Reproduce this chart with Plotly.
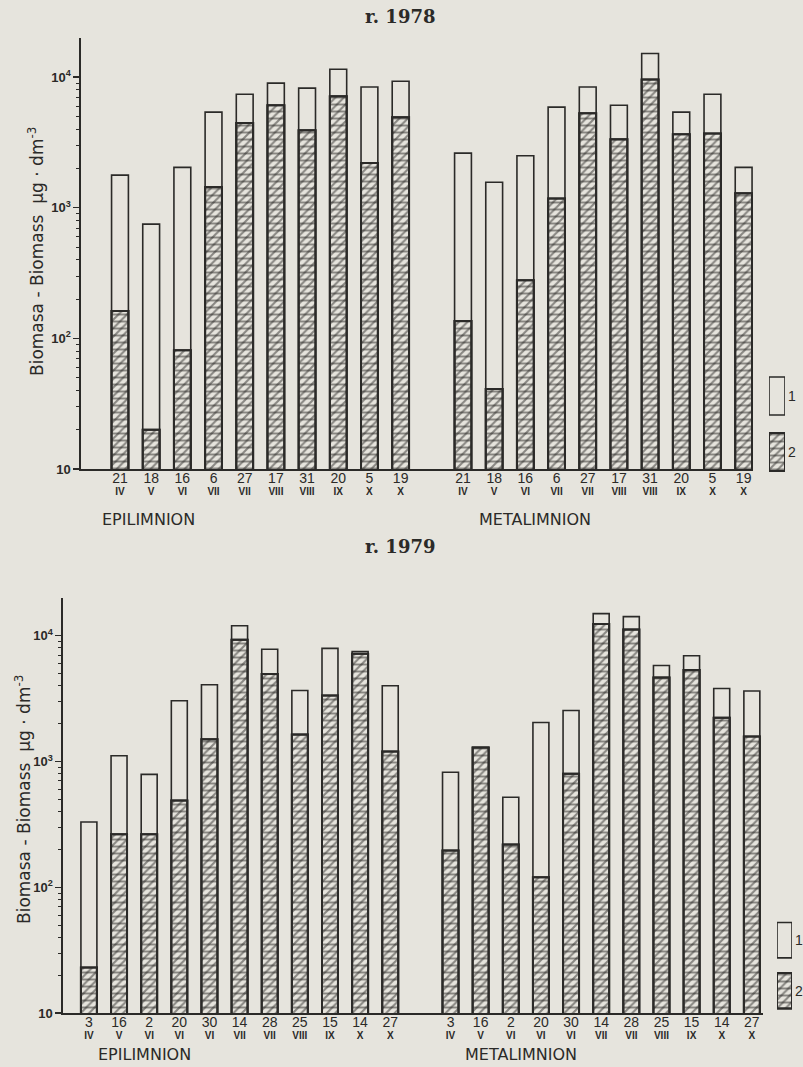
import plotly.graph_objects as go

# ---------------- data ----------------
days_78 = ["21", "18", "16", "6", "27", "17", "31", "20", "5", "19"]
months_78 = ["IV", "V", "VI", "VII", "VII", "VIII", "VIII", "IX", "X", "X"]
epi78_total = [1780, 750, 2040, 5400, 7400, 9000, 8240, 11500, 8400, 9300]
epi78_part2 = [162, 20, 81, 1440, 4460, 6100, 3930, 7160, 2200, 4940]
meta78_total = [2620, 1570, 2500, 5900, 8400, 6100, 15200, 5400, 7400, 2040]
meta78_part2 = [136, 41, 279, 1180, 5300, 3350, 9600, 3650, 3700, 1290]

days_79 = ["3", "16", "2", "20", "30", "14", "28", "25", "15", "14", "27"]
months_79 = ["IV", "V", "VI", "VI", "VI", "VII", "VII", "VIII", "IX", "X", "X"]
epi79_total = [330, 1110, 790, 3040, 4070, 12000, 7800, 3670, 7940, 7500, 4000]
epi79_part2 = [23, 264, 264, 490, 1500, 9300, 4970, 1640, 3340, 7200, 1200]
meta79_total = [820, 1290, 520, 2040, 2540, 15000, 14200, 5800, 6940, 3800, 3630]
meta79_part2 = [196, 1290, 219, 120, 800, 12400, 11200, 4650, 5340, 2230, 1580]

y_tickvals = [10, 100, 1000, 10000]
y_ticktext = ["10", "10<sup>2</sup>", "10<sup>3</sup>", "10<sup>4</sup>"]
legend_names = ["1", "2"]      # 1 = open bar, 2 = hatched bar
legend_key_len = [1, 1]        # full-length key boxes
group_names = ["EPILIMNION", "METALIMNION"]
titles = ["r. 1978", "r. 1979"]
y_title = "Biomasa - Biomass  µg · dm<sup>-3</sup>"

# ---------------- style ----------------
PAPER = "#e6e4dd"
INK = "#2b2a28"
W, H = 803, 1067


def px(x):
    return x / W


def py(y):
    return 1 - y / H


OPEN = dict(color=PAPER, line=dict(color=INK, width=1.6))
HATCH = dict(color=PAPER, line=dict(color=INK, width=2),
             pattern=dict(shape="/", size=6, solidity=0.36, fgcolor=INK, bgcolor=PAPER))
CROSS = dict(color="rgba(0,0,0,0)", line=dict(color=INK, width=2),
             pattern=dict(shape="-", size=7, solidity=0.28, fgcolor=INK,
                          bgcolor="rgba(0,0,0,0)"))

fig = go.Figure()


def positions(n):
    epi = list(range(n))
    meta = [n + 1 + i for i in range(n)]
    return epi, meta


def add_panel(days, months, epi_tot, epi_p2, meta_tot, meta_p2, xa, xa_m, ya, width):
    n = len(days)
    epi_x, meta_x = positions(n)
    xs = epi_x + meta_x
    tot = epi_tot + meta_tot
    p2 = epi_p2 + meta_p2
    fig.add_trace(go.Bar(x=xs, y=tot, width=width, name=legend_names[0],
                         showlegend=False, xaxis=xa, yaxis=ya, marker=OPEN,
                         hoverinfo="skip"))
    fig.add_trace(go.Bar(x=xs, y=p2, width=width, name=legend_names[1],
                         showlegend=False, xaxis=xa, yaxis=ya, marker=HATCH,
                         hoverinfo="skip"))
    # horizontal cross-lines of the hatching, drawn on the overlaying month axis
    fig.add_trace(go.Bar(x=xs, y=p2, width=width, showlegend=False,
                         xaxis=xa_m, yaxis=ya, marker=CROSS, hoverinfo="skip"))
    return xs, days + days, [f"<b>{m}</b>" for m in months + months]


def add_key(xa, ya, width):
    fig.add_trace(go.Bar(y=[legend_names[0]], x=[legend_key_len[0]], orientation="h",
                         width=width, showlegend=False, xaxis=xa, yaxis=ya,
                         marker=OPEN, hoverinfo="skip"))
    fig.add_trace(go.Bar(y=[legend_names[1]], x=[legend_key_len[1]], orientation="h",
                         width=width, showlegend=False, xaxis=xa, yaxis=ya,
                         marker=HATCH, hoverinfo="skip"))
    fig.add_trace(go.Bar(y=[legend_names[1]], x=[legend_key_len[1]], orientation="h",
                         width=width, showlegend=False, xaxis=xa, yaxis=ya,
                         marker=CROSS, hoverinfo="skip"))


xs1, d1, m1 = add_panel(days_78, months_78, epi78_total, epi78_part2,
                        meta78_total, meta78_part2, "x", "x3", "y", 0.54)
xs2, d2, m2 = add_panel(days_79, months_79, epi79_total, epi79_part2,
                        meta79_total, meta79_part2, "x2", "x4", "y2", 0.53)
add_key("x5", "y5", 0.68)
add_key("x6", "y6", 0.70)

minor_vals = [m * 10 ** e for e in range(1, 5) for m in range(2, 10)]

axis_common = dict(showgrid=False, zeroline=False, fixedrange=True)
xfont = dict(family="Liberation Sans, Arial, sans-serif", size=14, color=INK)
mfont = dict(family="Liberation Sans, Arial, sans-serif", size=10, color=INK)
yfont = dict(family="Liberation Sans, Arial, sans-serif", size=13, color=INK,
             weight="bold")
kfont = dict(family="Liberation Sans, Arial, sans-serif", size=14, color=INK)


def xaxis_cfg(domain, anchor, rng, xs, tt):
    return dict(domain=domain, anchor=anchor, range=rng, tickmode="array",
                tickvals=xs, ticktext=tt, ticks="", ticklen=0, tickfont=xfont,
                ticklabelstandoff=-4, showline=True, linecolor=INK, linewidth=1.6,
                **axis_common)


def month_axis_cfg(over, anchor, rng, xs, tt):
    return dict(overlaying=over, anchor=anchor, side="bottom", range=rng,
                tickmode="array", tickvals=xs, ticktext=tt, ticks="", ticklen=0,
                tickfont=mfont, ticklabelstandoff=15, showline=False,
                **axis_common)


def yaxis_cfg(domain, anchor):
    return dict(domain=domain, anchor=anchor, type="log", range=[1, 4.30],
                tickmode="array", tickvals=y_tickvals, ticktext=y_ticktext,
                ticks="outside", ticklen=6, tickwidth=1.4, tickcolor=INK,
                tickfont=yfont, showline=True, linecolor=INK, linewidth=1.6,
                minor=dict(tickmode="array", tickvals=minor_vals, ticks="outside",
                           ticklen=3, tickwidth=1, tickcolor=INK, showgrid=False),
                **axis_common)


def key_x_cfg(domain, anchor):
    return dict(domain=domain, anchor=anchor, range=[0, 1], visible=False,
                **axis_common)


def key_y_cfg(domain, anchor):
    return dict(domain=domain, anchor=anchor, type="category",
                categoryorder="array", categoryarray=legend_names[::-1],
                side="right", showline=False, ticks="", ticklen=0,
                ticklabelstandoff=2, tickfont=kfont, **axis_common)


rng1 = [-1.25, 20.3]
rng2 = [-0.86, 22.37]
fig.update_layout(
    width=W, height=H,
    margin=dict(l=0, r=0, t=0, b=0, autoexpand=False),
    paper_bgcolor=PAPER, plot_bgcolor=PAPER,
    barmode="overlay", showlegend=False,
    font=dict(family="Liberation Sans, Arial, sans-serif", color=INK),
    xaxis=xaxis_cfg([px(81), px(753)], "y", rng1, xs1, d1),
    yaxis=yaxis_cfg([py(469), py(38)], "x"),
    xaxis2=xaxis_cfg([px(63), px(763)], "y2", rng2, xs2, d2),
    yaxis2=yaxis_cfg([py(1013), py(598)], "x2"),
    xaxis3=month_axis_cfg("x", "y", rng1, xs1, m1),
    xaxis4=month_axis_cfg("x2", "y2", rng2, xs2, m2),
    xaxis5=key_x_cfg([px(769), px(785)], "y5"),
    yaxis5=key_y_cfg([py(480), py(368)], "x5"),
    xaxis6=key_x_cfg([px(777), px(792)], "y6"),
    yaxis6=key_y_cfg([py(1016), py(915)], "x6"),
)

ann_font_title = dict(family="DejaVu Serif, serif", size=18, color=INK)
ann_font_group = dict(family="DejaVu Sans, sans-serif", size=16, color=INK)
ann_font_ytitle = dict(family="DejaVu Sans, sans-serif", size=17, color=INK)

annotations = [
    dict(text=f"<b>{titles[0]}</b>", x=px(400), y=py(17), font=ann_font_title),
    dict(text=f"<b>{titles[1]}</b>", x=px(400), y=py(546), font=ann_font_title),
    dict(text=group_names[0], x=px(148), y=py(519), font=ann_font_group),
    dict(text=group_names[1], x=px(535), y=py(519), font=ann_font_group),
    dict(text=group_names[0], x=px(144), y=py(1054), font=ann_font_group),
    dict(text=group_names[1], x=px(521), y=py(1054), font=ann_font_group),
    dict(text=y_title, x=px(36), y=py(252), textangle=-90, font=ann_font_ytitle),
    dict(text=y_title, x=px(23), y=py(800), textangle=-90, font=ann_font_ytitle),
]
for a in annotations:
    a.update(xref="paper", yref="paper", showarrow=False,
             xanchor="center", yanchor="middle")
fig.update_layout(annotations=annotations)

fig.write_html("out.html",
               config={"displayModeBar": False, "staticPlot": True},
               post_script="document.body.style.margin='0';"
                           "document.body.style.overflow='hidden';")
